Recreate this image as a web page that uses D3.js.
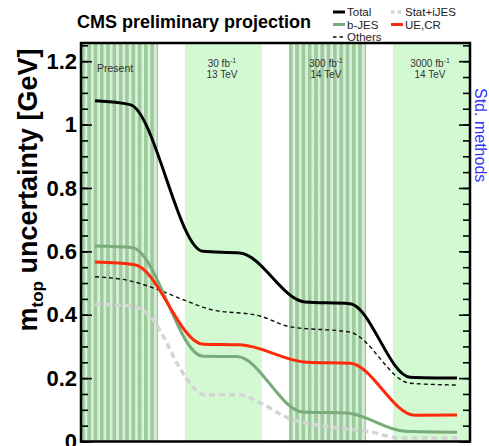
<!DOCTYPE html>
<html>
<head>
<meta charset="utf-8">
<script src="https://cdn.jsdelivr.net/npm/d3@7"></script>
<style>
    body { margin: 0; background: #fff; }
    svg { display: block; font-family: "Liberation Sans", Arial, Helvetica, sans-serif; }
</style>
</head>
<body>
<div id="chart"></div>
<script>

// x is the scenario position: 0 = Present, 1 = 30 fb-1, 2 = 300 fb-1, 3 = 3000 fb-1
let scenarioLabels = [["Present"], ["30 fb", "13 TeV"], ["300 fb", "14 TeV"], ["3000 fb", "14 TeV"]];
let scenarioHatched = [true, false, true, false];

// curve points [position, uncertainty in GeV]
let totalPts = [[-0.23, 1.075], [0.106, 1.063], [0.808, 0.600], [1.163, 0.595],
    [1.788, 0.440], [2.221, 0.435], [2.798, 0.203], [3.25, 0.200]];
let bJesPts = [[-0.23, 0.617], [0.125, 0.612], [0.808, 0.269], [1.135, 0.268],
    [1.769, 0.093], [2.192, 0.090], [2.75, 0.032], [3.25, 0.029]];
let ueCrPts = [[-0.23, 0.566], [0.15, 0.558], [0.808, 0.307], [1.163, 0.305],
    [1.808, 0.250], [2.221, 0.247], [2.846, 0.083], [3.25, 0.084]];
let othersPts = [[-0.23, 0.520], [0.106, 0.507], [0.394, 0.477], [0.635, 0.445], [0.875, 0.417],
    [1.356, 0.396], [1.644, 0.362], [2.221, 0.345], [2.798, 0.184], [3.25, 0.178]];
let statPts = [[-0.23, 0.433], [0.106, 0.428], [0.27, 0.404], [0.394, 0.351], [0.558, 0.247],
    [0.712, 0.172], [0.808, 0.148], [1.163, 0.147], [1.356, 0.122], [1.644, 0.072],
    [2.0, 0.047], [2.413, 0.031], [2.702, 0.011], [3.25, 0.011]];

let yTicks = [0, 0.2, 0.4, 0.6, 0.8, 1, 1.2];

let series = [
    { name: "Stat+iJES", pts: statPts,   color: "#d4d4d4", width: 3.5, dash: "6,4" },
    { name: "Others",    pts: othersPts, color: "#111",    width: 1.4, dash: "4,3" },
    { name: "b-JES",     pts: bJesPts,   color: "#7aab7a", width: 3,   dash: null },
    { name: "UE,CR",     pts: ueCrPts,   color: "#ff2a0a", width: 3,   dash: null },
    { name: "Total",     pts: totalPts,  color: "#000",    width: 3,   dash: null }
];

let margin = { top: 43, right: 19, bottom: 4.5, left: 81 };
let width = 489 - margin.left - margin.right;
let height = 446 - margin.top - margin.bottom;

let svg = d3.select("#chart").append("svg")
    .attr("width", 489)
    .attr("height", 446);

let g = svg.append("g")
    .attr("transform", "translate(" + margin.left + "," + margin.top + ")");

let x = d3.scaleLinear()
    .domain([-0.365, 3.375])
    .range([0, width]);

let y = d3.scaleLinear()
    .domain([0, 1.2574])
    .range([height, 0]);

// hatched pattern for the Present / 300 fb-1 bands
let defs = svg.append("defs");
let pat = defs.append("pattern")
    .attr("id", "hatch")
    .attr("patternUnits", "userSpaceOnUse")
    .attr("width", 6.3)
    .attr("height", 3);
pat.append("rect").attr("width", 6.3).attr("height", 3).attr("fill", "#e4f2e4");
pat.append("rect").attr("width", 3.8).attr("height", 3).attr("fill", "#9ccc9c");
pat.append("rect").attr("x", 4.6).attr("y", 0.5).attr("width", 1).attr("height", 1).attr("fill", "#c6e3c6");

// scenario bands
g.selectAll(".band")
    .data(scenarioLabels)
    .enter().append("rect")
    .attr("class", "band")
    .attr("x", (d, i) => x(i - 0.365))
    .attr("y", 0)
    .attr("width", (d, i) => x(i + 0.375) - x(i - 0.365))
    .attr("height", height)
    .attr("fill", (d, i) => scenarioHatched[i] ? "url(#hatch)" : "#d2f9d2");

// band labels
scenarioLabels.forEach((lab, i) => {
    if (i === 0) {
        g.append("text")
            .attr("x", x(i - 0.365) + 16)
            .attr("y", 29)
            .style("font-size", "10.5px")
            .style("fill", "#333")
            .text(lab[0]);
        return;
    }
    let t = g.append("text")
        .attr("x", x(i) - 1)
        .attr("y", 24)
        .attr("text-anchor", "middle")
        .style("font-size", "10px")
        .style("fill", "#333");
    t.append("tspan").text(lab[0]);
    t.append("tspan").attr("dy", -4).style("font-size", "7px").text("-1");
    g.append("text")
        .attr("x", x(i) - 1)
        .attr("y", 35)
        .attr("text-anchor", "middle")
        .style("font-size", "10px")
        .style("fill", "#333")
        .text(lab[1]);
});

// curves
let line = d3.line()
    .curve(d3.curveMonotoneX)
    .x(d => x(d[0]))
    .y(d => y(d[1]));

g.selectAll(".curve")
    .data(series)
    .enter().append("path")
    .attr("class", "curve")
    .attr("fill", "none")
    .attr("stroke", d => d.color)
    .attr("stroke-width", d => d.width)
    .attr("stroke-dasharray", d => d.dash)
    .attr("d", d => line(d.pts));

// axes: ticks pointing into the frame
let minorTicks = d3.range(0, 26).map(i => i / 20);

g.append("g")
    .attr("class", "y-axis axis")
    .call(d3.axisLeft(y).tickValues(yTicks).tickSize(-11).tickPadding(4).tickFormat(d3.format("~g")));
g.append("g")
    .attr("class", "y-minor axis")
    .call(d3.axisLeft(y).tickValues(minorTicks).tickSize(-7).tickFormat(""));
g.append("g")
    .attr("class", "y-axis-right axis")
    .attr("transform", "translate(" + width + ",0)")
    .call(d3.axisRight(y).tickValues(yTicks).tickSize(-11).tickFormat(""));
g.append("g")
    .attr("class", "y-minor-right axis")
    .attr("transform", "translate(" + width + ",0)")
    .call(d3.axisRight(y).tickValues(minorTicks).tickSize(-7).tickFormat(""));

g.selectAll(".axis .domain").remove();
g.selectAll(".axis line").attr("stroke", "#000").attr("stroke-width", 1.6);
g.selectAll(".y-axis text")
    .style("font-size", "22px")
    .style("font-weight", "bold")
    .style("fill", "#000");

// frame
g.append("rect")
    .attr("width", width)
    .attr("height", height)
    .attr("fill", "none")
    .attr("stroke", "#000")
    .attr("stroke-width", 2.5);

// y axis title
let yTitle = svg.append("text")
    .attr("transform", "translate(37,190) rotate(-90)")
    .attr("text-anchor", "middle")
    .style("font-size", "27px")
    .style("font-weight", "bold")
    .style("fill", "#000");
yTitle.append("tspan").text("m");
yTitle.append("tspan").attr("dy", 6).style("font-size", "17px").text("top");
yTitle.append("tspan").attr("dy", -6).text(" uncertainty [GeV]");

// right side label
svg.append("text")
    .attr("transform", "translate(475,88) rotate(90)")
    .style("font-size", "16px")
    .style("fill", "#3434ff")
    .text("Std. methods");

// title
svg.append("text")
    .attr("x", 77)
    .attr("y", 28)
    .style("font-size", "18px")
    .style("font-weight", "bold")
    .text("CMS preliminary projection");

// legend
let legendItems = [
    { name: "Total",     col: 0, row: 0 },
    { name: "b-JES",     col: 0, row: 1 },
    { name: "Others",    col: 0, row: 2 },
    { name: "Stat+iJES", col: 1, row: 0 },
    { name: "UE,CR",     col: 1, row: 1 }
];
let legend = svg.append("g").attr("class", "legend-group");
legendItems.forEach(item => {
    let s = series.find(d => d.name === item.name);
    let lx = item.col === 0 ? 333 : 391;
    let ly = 12 + item.row * 12.5;
    legend.append("line")
        .attr("x1", lx).attr("x2", lx + 12)
        .attr("y1", ly).attr("y2", ly)
        .attr("stroke", s.color)
        .attr("stroke-width", s.width)
        .attr("stroke-dasharray", s.dash ? "3.5,3" : null);
    legend.append("text")
        .attr("x", lx + 14)
        .attr("y", ly + 4)
        .style("font-size", "11.5px")
        .style("fill", "#222")
        .text(item.name);
});

</script>
</body>
</html>
